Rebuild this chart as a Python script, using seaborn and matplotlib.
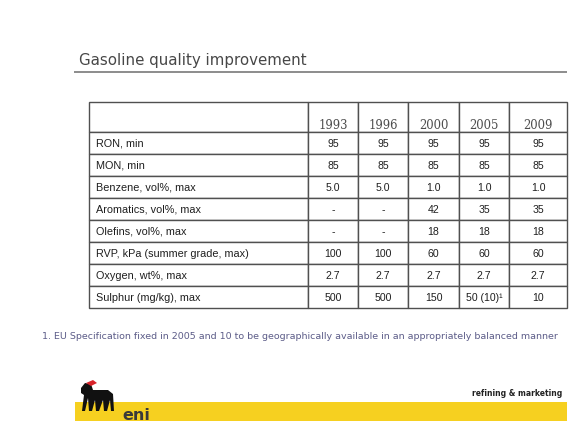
import matplotlib
matplotlib.use("Agg")
import matplotlib.pyplot as plt
import seaborn as sns
from matplotlib.table import Table
from matplotlib.patches import Rectangle, Polygon

# table data
years = ["1993", "1996", "2000", "2005", "2009"]
params = ["RON, min", "MON, min", "Benzene, vol%, max", "Aromatics, vol%, max",
          "Olefins, vol%, max", "RVP, kPa (summer grade, max)",
          "Oxygen, wt%, max", "Sulphur (mg/kg), max"]
ron = ["95", "95", "95", "95", "95"]
mon = ["85", "85", "85", "85", "85"]
benzene = ["5.0", "5.0", "1.0", "1.0", "1.0"]
aromatics = ["-", "-", "42", "35", "35"]
olefins = ["-", "-", "18", "18", "18"]
rvp = ["100", "100", "60", "60", "60"]
oxygen = ["2.7", "2.7", "2.7", "2.7", "2.7"]
sulphur = ["500", "500", "150", "50 (10)¹", "10"]
values = [ron, mon, benzene, aromatics, olefins, rvp, oxygen, sulphur]

title = "Gasoline quality improvement"
footnote = ("1. EU Specification fixed in 2005 and 10 to be geographically "
            "available in an appropriately balanced manner")

sns.set_theme(style="white")
plt.rcParams['font.family'] = ['DejaVu Sans']

W, H = 569, 439
fig = plt.figure(figsize=(W / 100, H / 100), dpi=100)
ax = fig.add_axes([0, 0, 1, 1])
ax.set_xlim(0, W)
ax.set_ylim(H, 0)
ax.axis('off')

# title + rule
ax.text(79, 60, title, fontsize=10.8, color='#474747', va='center', ha='left')
ax.plot([74, 567], [73, 73], color='#8c8c8c', lw=1.4, solid_capstyle='butt')

# the table
col_w = [219, 50, 50, 51, 50, 58]
left, top, bottom = 89, 103, 309
tb = Table(ax, bbox=[left / W, 1 - bottom / H, sum(col_w) / W, (bottom - top) / H])
header = [""] + ["\n" + y for y in years]
for c, txt in enumerate(header):
    cell = tb.add_cell(0, c, col_w[c], 30, text=txt, loc='center')
    cell.get_text().set_fontfamily('DejaVu Serif')
    cell.get_text().set_fontsize(8.4)
    cell.get_text().set_color('#4d4d4d')
for r, (name, vals) in enumerate(zip(params, values), start=1):
    cell = tb.add_cell(r, 0, col_w[0], 22, text=name, loc='left')
    cell.PAD = 7 / col_w[0]
    cell.get_text().set_fontfamily('Liberation Sans')
    cell.get_text().set_fontsize(7.8)
    cell.get_text().set_color('#1f1f1f')
    for c, v in enumerate(vals, start=1):
        cell = tb.add_cell(r, c, col_w[c], 22, text=v, loc='center')
        cell.get_text().set_fontfamily('Liberation Sans')
        cell.get_text().set_fontsize(7.6)
        cell.get_text().set_color('#1f1f1f')
tb.auto_set_font_size(False)
for cell in tb.get_celld().values():
    cell.set_edgecolor('#505050')
    cell.set_linewidth(1.0)
    cell.set_facecolor('white')
ax.add_table(tb)

# footnote
ax.text(42, 337, footnote, fontsize=6.8, color='#5c5c88', va='center', ha='left',
        clip_on=True)

# footer band + logo
ax.add_patch(Rectangle((75, 403), 492, 19, color='#F6D020', lw=0))
ax.text(122, 416, "eni", fontsize=11.5, fontweight='bold', color='#3a3a3a',
        va='center', ha='left')
dog = Polygon([(81, 389), (85, 384), (91, 385), (93, 391), (108, 391), (113, 395),
               (114, 412), (111, 412), (110, 401), (107, 412), (104, 412),
               (103, 401), (99, 412), (96, 412), (95, 401), (92, 412), (89, 412),
               (88, 399), (85, 412), (82, 412), (84, 396), (81, 394)],
              closed=True, color='#111111', lw=0)
ax.add_patch(dog)
ax.add_patch(Polygon([(86, 384), (93, 381), (97, 384), (91, 387)], closed=True,
                     color='#d8232a', lw=0))
ax.text(562, 394, "refining & marketing", fontsize=5.5, fontweight='bold',
        color='#222222', va='center', ha='right')

fig.savefig("out.png", dpi=100)
